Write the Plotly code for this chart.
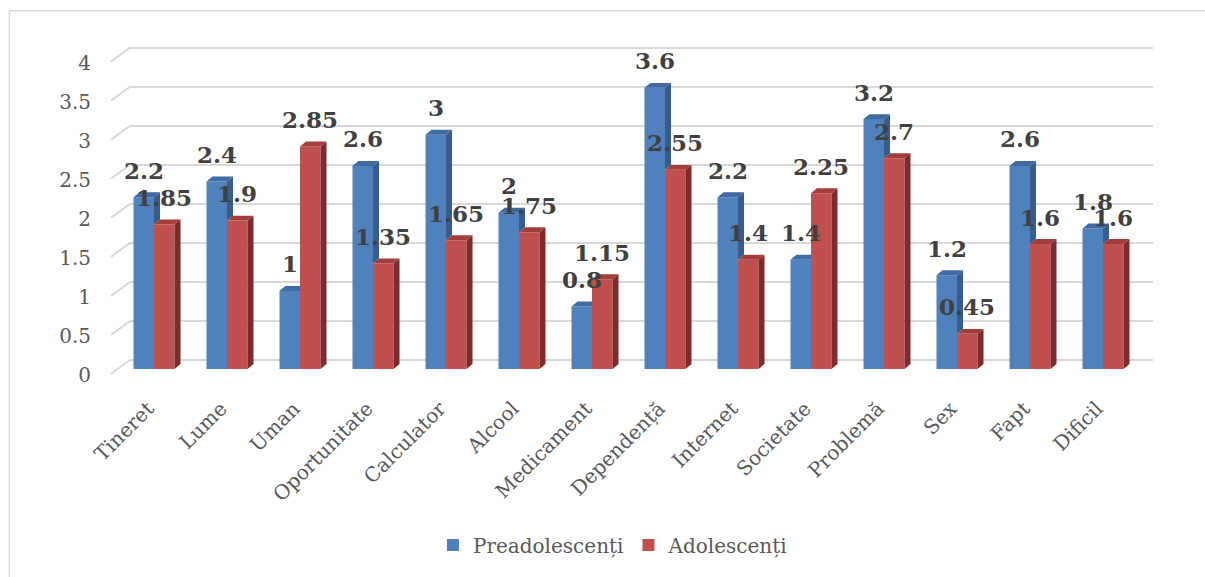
import plotly.graph_objects as go

categories = ["Tineret", "Lume", "Uman", "Oportunitate", "Calculator", "Alcool",
              "Medicament", "Dependență", "Internet", "Societate", "Problemă",
              "Sex", "Fapt", "Dificil"]
preadolescenti = [2.2, 2.4, 1, 2.6, 3, 2, 0.8, 3.6, 2.2, 1.4, 3.2, 1.2, 2.6, 1.8]
adolescenti = [1.85, 1.9, 2.85, 1.35, 1.65, 1.75, 1.15, 2.55, 1.4, 2.25, 2.7, 0.45, 1.6, 1.6]
series_names = ["Preadolescenți", "Adolescenți"]
y_ticks = [0, 0.5, 1, 1.5, 2, 2.5, 3, 3.5, 4]

# ---- layout geometry / style ----
W, H = 1205, 577
L, R, T, B = 130, 52, 41, 206
PW, PH = W - L - R, H - T - B
YR = [0, 4.2]
XR = [-0.329, 13.685]
UNIT_PX = PH / (YR[1] - YR[0])
CAT_PX = PW / (XR[1] - XR[0])
BACK_SHIFT = 9 / UNIT_PX          # gridlines sit on the back wall
YR2 = [YR[0] - BACK_SHIFT, YR[1] - BACK_SHIFT]

BW = 20.5 / CAT_PX                # bar width (category units)
DX = 6 / CAT_PX                   # 3D depth in x
DY = 5 / UNIT_PX                  # 3D depth in y

BLUE, BLUE_SIDE, BLUE_TOP = "#4f81bd", "#385d8a", "#3f6aa2"
RED, RED_SIDE, RED_TOP = "#c0504d", "#7b2c2b", "#a33e3b"
GRID = "#d9d9d9"
FONT = "DejaVu Serif"


def px_x(px):
    return (px - L) / PW


def px_y(py):
    return (H - B - py) / PH


xs = list(range(len(categories)))

fig = go.Figure()

# blue front faces
fig.add_trace(go.Bar(x=xs, y=preadolescenti, width=[BW] * len(xs), offset=-BW,
                     marker=dict(color=BLUE, line=dict(width=0)),
                     name=series_names[0], hoverinfo="skip"))

# blue side/top faces (clipped where hidden by the red bar)
bs_x, bs_y, bt_x, bt_y = [], [], [], []
for i, (vb, vr) in enumerate(zip(preadolescenti, adolescenti)):
    if vb > vr:
        bs_x += [i, i + DX, i + DX, i, i, None]
        bs_y += [vr, vr + DY, vb + DY, vb, vr, None]
        bt_x += [i - BW, i - BW + DX, i + DX, i, i - BW, None]
        bt_y += [vb, vb + DY, vb + DY, vb, vb, None]
    else:
        bt_x += [i - BW, i - BW + DX, i, i, i - BW, None]
        bt_y += [vb, vb + DY, vb + DY, vb, vb, None]
fig.add_trace(go.Scatter(x=bs_x, y=bs_y, mode="lines", fill="toself", fillcolor=BLUE_SIDE,
                         line=dict(width=0), showlegend=False, hoverinfo="skip"))
fig.add_trace(go.Scatter(x=bt_x, y=bt_y, mode="lines", fill="toself", fillcolor=BLUE_TOP,
                         line=dict(width=0), showlegend=False, hoverinfo="skip"))

# red front faces
fig.add_trace(go.Bar(x=xs, y=adolescenti, width=[BW] * len(xs), offset=0,
                     marker=dict(color=RED, line=dict(width=0)),
                     name=series_names[1], hoverinfo="skip"))

rs_x, rs_y, rt_x, rt_y = [], [], [], []
for i, vr in enumerate(adolescenti):
    rs_x += [i + BW, i + BW + DX, i + BW + DX, i + BW, i + BW, None]
    rs_y += [0, DY, vr + DY, vr, 0, None]
    rt_x += [i, i + DX, i + BW + DX, i + BW, i, None]
    rt_y += [vr, vr + DY, vr + DY, vr, vr, None]
fig.add_trace(go.Scatter(x=rs_x, y=rs_y, mode="lines", fill="toself", fillcolor=RED_SIDE,
                         line=dict(width=0), showlegend=False, hoverinfo="skip"))
fig.add_trace(go.Scatter(x=rt_x, y=rt_y, mode="lines", fill="toself", fillcolor=RED_TOP,
                         line=dict(width=0), showlegend=False, hoverinfo="skip"))

# dummy trace to activate the back-wall grid axis
fig.add_trace(go.Scatter(x=[0], y=[0], yaxis="y2", mode="markers",
                         marker=dict(opacity=0), showlegend=False, hoverinfo="skip"))

# data labels
annotations = []
for i, (vb, vr) in enumerate(zip(preadolescenti, adolescenti)):
    for xv, v in ((i - BW / 2, vb), (i + BW / 2, vr)):
        annotations.append(dict(x=xv, y=v, xref="x", yref="y", text=f"{v:g}",
                                showarrow=False, yshift=27, yanchor="middle",
                                font=dict(family=FONT, size=23, color="#404040",
                                          weight="bold")))

# shapes: outer border and floor diagonals of gridlines
shapes = [
    dict(type="line", xref="paper", yref="paper", x0=px_x(9.5), y0=px_y(10.5),
         x1=px_x(W + 5), y1=px_y(10.5), line=dict(color=GRID, width=1.5)),
    dict(type="line", xref="paper", yref="paper", x0=px_x(9.5), y0=px_y(10.5),
         x1=px_x(9.5), y1=px_y(H + 5), line=dict(color=GRID, width=1.5)),
]
for v in y_ticks:
    yb = (v - YR2[0]) / (YR2[1] - YR2[0])
    shapes.append(dict(type="line", xref="paper", yref="paper", x0=px_x(111),
                       y0=yb - 14 / PH, x1=0, y1=yb, layer="below",
                       line=dict(color=GRID, width=2)))

fig.update_layout(
    width=W, height=H,
    margin=dict(l=L, r=R, t=T, b=B),
    paper_bgcolor="white", plot_bgcolor="white",
    barmode="overlay",
    showlegend=True,
    legend=dict(orientation="h", x=px_x(433), xanchor="left", y=px_y(548),
                yanchor="middle", font=dict(family=FONT, size=20, color="#595959"),
                bgcolor="rgba(0,0,0,0)"),
    xaxis=dict(range=XR, tickmode="array", tickvals=xs, ticktext=categories,
               tickangle=-45, showgrid=False, zeroline=False, showline=False,
               ticks="", ticklabelstandoff=23, ticklabelshift=-6,
               tickfont=dict(family=FONT, size=20, color="#595959")),
    yaxis=dict(range=YR, tickmode="array", tickvals=y_ticks,
               ticktext=[f"{v:g}" for v in y_ticks],
               showgrid=False, zeroline=False, showline=False, ticks="",
               ticklabelstandoff=38, ticklabelshift=6,
               tickfont=dict(family=FONT, size=20, color="#595959")),
    yaxis2=dict(range=YR2, overlaying="y", side="left", tickmode="array",
                tickvals=y_ticks, showticklabels=False, showgrid=True,
                gridcolor=GRID, gridwidth=2, zeroline=False, showline=False,
                ticks=""),
    annotations=annotations,
    shapes=shapes,
)

fig.write_html("out.html")
